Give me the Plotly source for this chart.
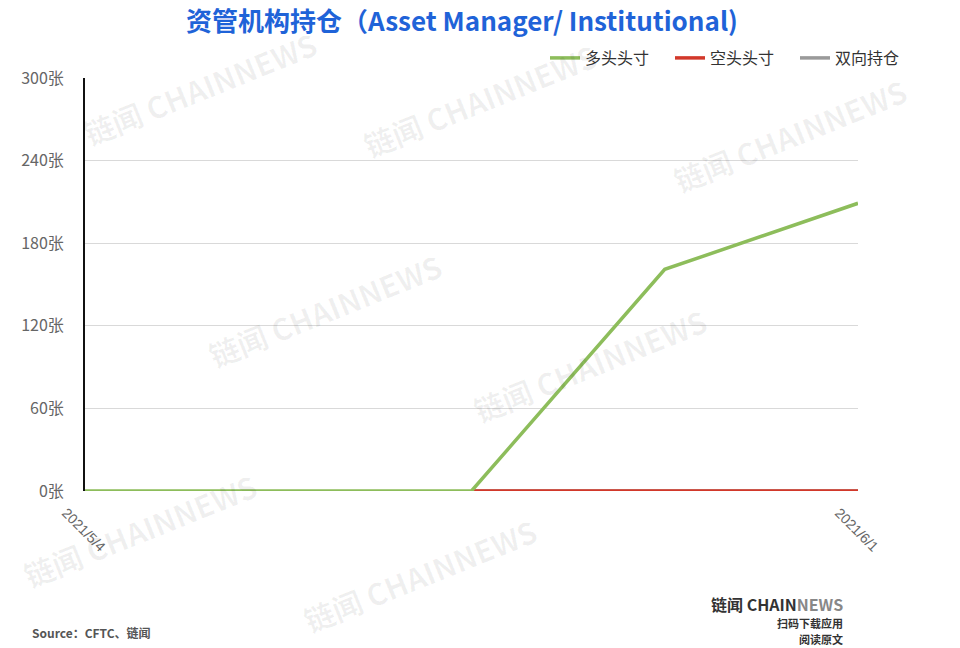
import plotly.graph_objects as go

dates = ["2021/5/4", "2021/5/11", "2021/5/18", "2021/5/25", "2021/6/1"]
long_pos = [0, 0, 0, 161, 209]
short_pos = [None, None, 0, 0, 0]
spread_pos = [None, None, 0, 0, 0]
y_ticks = [0, 60, 120, 180, 240, 300]
y_labels = [f"{v}张" for v in y_ticks]
x_ticks = ["2021/5/4", "2021/6/1"]

W, H = 960, 648
# plot box in pixels: x 85..858, y 78..491
L, T = 85, 78
R = W - 858
B = H - 491
PW, PH = W - L - R, H - T - B


def px(x):
    return (x - L) / PW


def py(y):
    return (H - B - y) / PH


fig = go.Figure()
fig.add_trace(go.Scatter(x=dates, y=spread_pos, name="双向持仓", mode="lines",
                         line=dict(color="#9a9a9a", width=3.5)))
fig.add_trace(go.Scatter(x=dates, y=short_pos, name="空头头寸", mode="lines",
                         line=dict(color="#d2382a", width=3.5)))
fig.add_trace(go.Scatter(x=dates, y=long_pos, name="多头头寸", mode="lines",
                         line=dict(color="#8dbd5b", width=3.5)))

# faint watermarks
wm = [(200, 88), (480, 100), (790, 135), (325, 310), (590, 365), (140, 530), (420, 575)]
for x, y in wm:
    fig.add_annotation(text="<b>链闻 CHAINNEWS</b>", x=px(x), y=py(y), xref="paper", yref="paper",
                       showarrow=False, textangle=-22,
                       font=dict(size=30, color="rgba(0,0,0,0.06)", family="Noto Sans CJK SC"),
                       xanchor="center", yanchor="middle")

fig.update_layout(
    width=W, height=H,
    margin=dict(l=L, r=R, t=T, b=B, autoexpand=False),
    paper_bgcolor="white", plot_bgcolor="white",
    font=dict(family="Noto Sans CJK SC, sans-serif", color="#555"),
    title=dict(text="<b>资管机构持仓（Asset Manager/ Institutional)</b>",
               x=462 / W, xanchor="center",
               y=1 - 22 / H, yanchor="middle",
               font=dict(size=26, color="#1f63d8", family="Noto Sans CJK SC, sans-serif")),
    legend=dict(orientation="h", x=px(545), xanchor="left", y=py(58), yanchor="middle",
                traceorder="reversed", font=dict(size=16, color="#333"),
                itemwidth=30, entrywidth=80, entrywidthmode="pixels",
                bgcolor="rgba(0,0,0,0)"),
    showlegend=True,
    xaxis=dict(type="category", categoryorder="array", categoryarray=dates,
               tickmode="array", tickvals=x_ticks, ticktext=x_ticks, tickangle=45,
               showgrid=False, zeroline=False, showline=False, range=[0, 4],
               tickfont=dict(size=14, color="#666", family="Liberation Sans, Arial"),
               ticks="", ticklabelshift=-19, ticklabelstandoff=10),
    yaxis=dict(range=[0, 300], tickmode="array", tickvals=y_ticks, ticktext=y_labels,
               showgrid=True, gridcolor="#d9d9d9", gridwidth=1, zeroline=False,
               showline=True, linecolor="#111", linewidth=2,
               tickfont=dict(size=16, color="#666"), ticks="", ticklabelstandoff=16),
)

fig.add_annotation(text="<b>Source：CFTC、链闻</b>", x=px(30), y=py(632), xref="paper", yref="paper",
                   xanchor="left", yanchor="middle", showarrow=False,
                   font=dict(size=12, color="#555"))
fig.add_annotation(text="<b>链闻 CHAIN<span style='color:#888'>NEWS</span></b>",
                   x=px(845), y=py(604), xref="paper", yref="paper",
                   xanchor="right", yanchor="middle", showarrow=False,
                   font=dict(size=16, color="#333"))
fig.add_annotation(text="<b>扫码下载应用</b>", x=px(845), y=py(623), xref="paper", yref="paper",
                   xanchor="right", yanchor="middle", showarrow=False,
                   font=dict(size=11, color="#333"))
fig.add_annotation(text="<b>阅读原文</b>", x=px(845), y=py(639), xref="paper", yref="paper",
                   xanchor="right", yanchor="middle", showarrow=False,
                   font=dict(size=11, color="#333"))

fig.write_html("out.html", config={"displayModeBar": False},
               post_script="document.body.style.margin='0';")
